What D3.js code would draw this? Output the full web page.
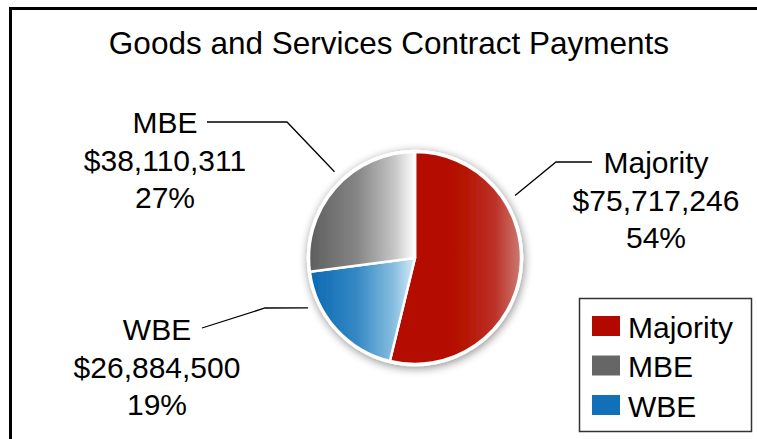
<!DOCTYPE html>
<html>
<head>
<meta charset="utf-8">
<script src="https://cdn.jsdelivr.net/npm/d3@7"></script>
<style>
  html, body { margin: 0; padding: 0; background: #fff; }
  svg { display: block; font-family: "Liberation Sans", Arial, sans-serif; }
</style>
</head>
<body>
<svg id="chart" width="757" height="439"></svg>
<script>
// Contract payment data, drawn clockwise from 12 o'clock
const categories = ["Majority", "WBE", "MBE"];
const payments = [75717246, 26884500, 38110311];
const legendOrder = ["Majority", "MBE", "WBE"];

// Per-category styling and label placement
const baseColors = { Majority: "#b30800", MBE: "#666666", WBE: "#1170b7" };
const gradientStops = {
  Majority: [[0, "#b30a00"], [0.55, "#b51200"], [0.8, "#bd3128"], [1, "#cc7b73"]],
  MBE:      [[0, "#5e5e5e"], [0.45, "#858585"], [0.8, "#c4c4c4"], [1, "#ffffff"]],
  WBE:      [[0, "#0b68b2"], [0.45, "#3589c4"], [0.8, "#88bfe0"], [1, "#d4ecf8"]]
};
const labelLayout = {
  Majority: { x: 656, y: 173, leader: [[592, 162], [556, 162]], leaderAngle: 58 },
  MBE:      { x: 165, y: 133, leader: [[207, 122], [287, 122]], leaderAngle: 317 },
  WBE:      { x: 157, y: 340, leader: [[202, 328], [265, 308]], leaderAngle: 245 }
};

const W = 757, H = 439;
const cx = 415, cy = 258, R = 106;
const lineGap = 37.5;

const svg = d3.select("#chart");
const defs = svg.append("defs");

svg.append("rect").attr("width", W).attr("height", H).attr("fill", "#fff");

// chart frame (continues past the right and bottom edges)
svg.append("rect")
  .attr("x", 10.5).attr("y", 8.5)
  .attr("width", 820).attr("height", 520)
  .attr("fill", "none").attr("stroke", "#000").attr("stroke-width", 3);

svg.append("text")
  .attr("x", 389).attr("y", 54)
  .attr("text-anchor", "middle")
  .attr("font-size", 31.5)
  .attr("fill", "#000")
  .text("Goods and Services Contract Payments");

// soft shadow behind the pie
const shadow = defs.append("filter").attr("id", "pieShadow")
  .attr("x", "-30%").attr("y", "-30%").attr("width", "160%").attr("height", "160%");
shadow.append("feGaussianBlur").attr("in", "SourceAlpha").attr("stdDeviation", 5).attr("result", "blur");
shadow.append("feOffset").attr("in", "blur").attr("dx", 1).attr("dy", 2).attr("result", "off");
shadow.append("feComponentTransfer").attr("in", "off").attr("result", "shade")
  .append("feFuncA").attr("type", "linear").attr("slope", 0.45);
const merge = shadow.append("feMerge");
merge.append("feMergeNode").attr("in", "shade");
merge.append("feMergeNode").attr("in", "SourceGraphic");

categories.forEach(c => {
  const g = defs.append("linearGradient")
    .attr("id", "grad-" + c)
    .attr("x1", 0).attr("y1", 0).attr("x2", 1).attr("y2", 0);
  gradientStops[c].forEach(([o, col]) => {
    g.append("stop").attr("offset", o).attr("stop-color", col);
  });
});

const data = categories.map((c, i) => ({ category: c, value: payments[i] }));
const total = d3.sum(payments);
const pct = d3.format(".0%");
const money = d3.format("$,");

const pie = d3.pie().sort(null).value(d => d.value).startAngle(0).endAngle(2 * Math.PI);
const arc = d3.arc().innerRadius(0).outerRadius(R);
const arcs = pie(data);

const pieG = svg.append("g")
  .attr("transform", `translate(${cx},${cy})`)
  .attr("filter", "url(#pieShadow)");

pieG.selectAll("path.slice")
  .data(arcs)
  .join("path")
  .attr("class", "slice")
  .attr("d", arc)
  .attr("fill", d => `url(#grad-${d.data.category})`)
  .attr("stroke", "#fff")
  .attr("stroke-width", 2.5)
  .attr("stroke-linejoin", "round");

// outer white rim
pieG.append("circle").attr("r", R + 1).attr("fill", "none")
  .attr("stroke", "#fff").attr("stroke-width", 2.5);

// data labels with leader lines
const labelG = svg.append("g");
data.forEach(d => {
  const L = labelLayout[d.category];
  const a = L.leaderAngle * Math.PI / 180;
  const rr = R + 12;
  const end = [cx + rr * Math.sin(a), cy - rr * Math.cos(a)];
  const pts = L.leader.concat([end]);
  labelG.append("path")
    .attr("d", d3.line()(pts))
    .attr("fill", "none").attr("stroke", "#000").attr("stroke-width", 1.3);

  const lines = [d.category, money(d.value), pct(d.value / total)];
  lines.forEach((t, i) => {
    labelG.append("text")
      .attr("x", L.x).attr("y", L.y + i * lineGap)
      .attr("text-anchor", "middle")
      .attr("font-size", 30)
      .attr("fill", "#000")
      .text(t);
  });
});

// legend
const lg = svg.append("g");
lg.append("rect")
  .attr("x", 579.5).attr("y", 298.5).attr("width", 172).attr("height", 133)
  .attr("fill", "#fff").attr("stroke", "#333").attr("stroke-width", 1.5);
const ly = d3.scalePoint().domain(legendOrder).range([326, 405]);
legendOrder.forEach(c => {
  lg.append("rect")
    .attr("x", 592).attr("y", ly(c) - 10).attr("width", 28).attr("height", 20)
    .attr("fill", baseColors[c]);
  lg.append("text")
    .attr("x", 628).attr("y", ly(c) + 11.5)
    .attr("font-size", 30).attr("fill", "#000")
    .text(c);
});
</script>
</body>
</html>
